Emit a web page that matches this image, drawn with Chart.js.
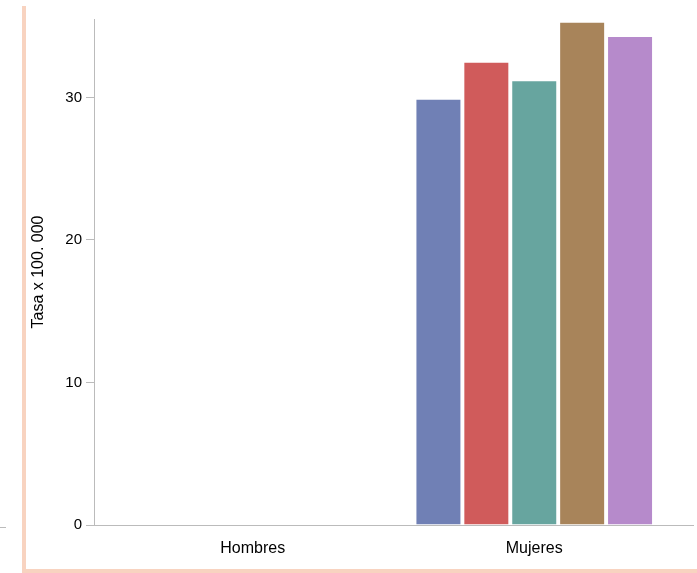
<!DOCTYPE html>
<html><head><meta charset="utf-8">
<script src="https://cdn.jsdelivr.net/npm/chart.js@4/dist/chart.umd.min.js"></script>
<style>html,body{margin:0;padding:0;background:#fff}canvas{display:block}</style>
</head><body>
<canvas id="c" width="697" height="573"></canvas>
<script>
const categories = ['Hombres', 'Mujeres'];
const seriesNames = ['Serie 1', 'Serie 2', 'Serie 3', 'Serie 4', 'Serie 5'];
const serie1 = [null, 29.9];
const serie2 = [null, 32.5];
const serie3 = [null, 31.2];
const serie4 = [null, 35.3];
const serie5 = [null, 34.3];
const yTicks = [0, 10, 20, 30];
const yTitle = 'Tasa x 100. 000';

const colors = ['#7080b5', '#d05b5b', '#67a59f', '#a8845a', '#b68acb'];
const allSeries = [serie1, serie2, serie3, serie4, serie5];

const framePlugin = {
  id: 'frame',
  beforeDraw(chart) {
    const ctx = chart.ctx;
    ctx.save();
    ctx.fillStyle = '#ffffff';
    ctx.fillRect(0, 0, chart.width, chart.height);
    ctx.restore();
  },
  afterDraw(chart) {
    const ctx = chart.ctx;
    ctx.save();
    ctx.fillStyle = '#f8d3c0';
    ctx.fillRect(22, 6, 4, chart.height - 6);
    ctx.fillRect(22, chart.height - 4, chart.width - 22, 4);
    ctx.strokeStyle = '#bbbbbb';
    ctx.lineWidth = 1;
    ctx.beginPath();
    ctx.moveTo(0, 527.5);
    ctx.lineTo(6, 527.5);
    ctx.stroke();
    ctx.restore();
  }
};

new Chart(document.getElementById('c'), {
  type: 'bar',
  data: {
    labels: categories,
    datasets: allSeries.map((d, i) => ({
      label: seriesNames[i],
      data: d,
      backgroundColor: colors[i],
      borderColor: 'rgba(255,255,255,0.7)',
      borderWidth: 1,
      barPercentage: 0.96,
      categoryPercentage: 0.851
    }))
  },
  options: {
    responsive: false,
    animation: false,
    layout: { padding: { top: 19, right: 4, left: 0, bottom: 0 } },
    plugins: { legend: { display: false }, tooltip: { enabled: false } },
    scales: {
      x: {
        offset: true,
        afterBuildTicks(scale) {
          scale._startValue = -0.564;
          scale._valueRange = 2.128;
        },
        afterFit(scale) { scale.height = 48; },
        grid: { display: true, drawOnChartArea: false, drawTicks: false },
        border: { display: true, color: '#bbbbbb', width: 1 },
        ticks: {
          padding: 14,
          color: '#000',
          font: { family: 'Liberation Sans, Arial, sans-serif', size: 16 }
        }
      },
      y: {
        min: 0,
        max: 35.5,
        afterBuildTicks(scale) {
          scale.ticks = yTicks.map(v => ({ value: v }));
        },
        afterFit(scale) { scale.width = 94; },
        grid: { display: true, drawOnChartArea: false, drawTicks: true, tickLength: 8, color: '#bbbbbb' },
        border: { display: true, color: '#bbbbbb', width: 1 },
        ticks: {
          padding: 4,
          color: '#000',
          font: { family: 'Liberation Sans, Arial, sans-serif', size: 15 }
        },
        title: {
          display: true,
          text: yTitle,
          color: '#000',
          padding: { top: 29, bottom: 0 },
          font: { family: 'Liberation Sans, Arial, sans-serif', size: 16 }
        }
      }
    }
  },
  plugins: [framePlugin]
});
</script>
</body></html>
